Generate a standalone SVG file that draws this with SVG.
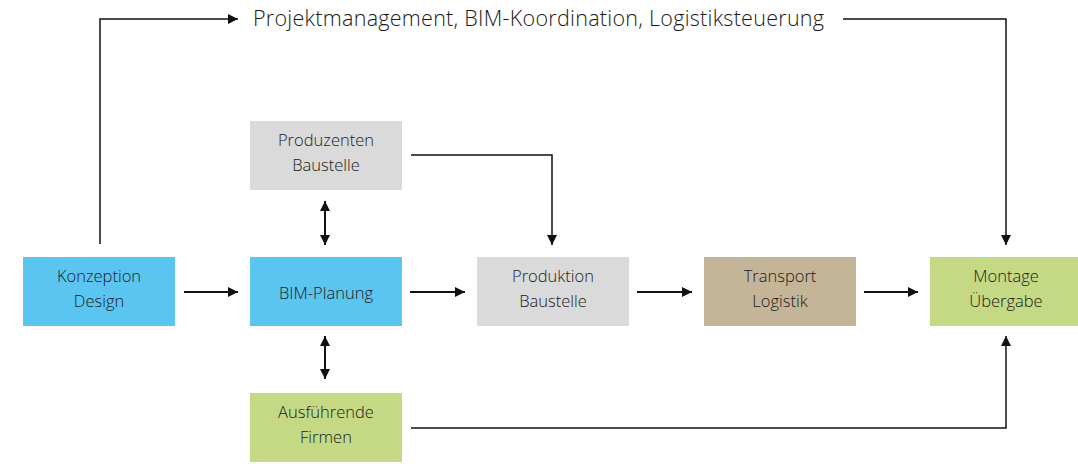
<svg xmlns="http://www.w3.org/2000/svg" width="1078" height="464" viewBox="0 0 1078 464">
<style>
.t{font-family:"Open Sans","Noto Sans",sans-serif;font-size:16.5px;fill:#1a1a1a;text-anchor:middle;font-weight:300}
.h{font-family:"Open Sans","Noto Sans",sans-serif;font-size:21.5px;fill:#1a1a1a;font-weight:300}
.c{fill:none;stroke:#111;stroke-width:1.5}
.a{fill:none;stroke:#111;stroke-width:2}
</style>
<defs>
<marker id="ah" viewBox="0 0 10 10" refX="10" refY="5" markerWidth="10" markerHeight="10" markerUnits="userSpaceOnUse" orient="auto-start-reverse"><path d="M0,0 L10,5 L0,10 z" fill="#111"/></marker>
</defs>
<rect width="1078" height="464" fill="#fff"/>
<g id="konzeption"><rect x="23" y="257" width="152" height="69" fill="#5bc5f2"/><text class="t" x="99" y="282">Konzeption</text><text class="t" x="99" y="307">Design</text></g>
<g id="bim"><rect x="250" y="257" width="152" height="69" fill="#5bc5f2"/><text class="t" x="326" y="299">BIM-Planung</text></g>
<g id="produktion"><rect x="477" y="257" width="152" height="69" fill="#dadada"/><text class="t" x="553" y="282">Produktion</text><text class="t" x="553" y="307">Baustelle</text></g>
<g id="transport"><rect x="704" y="257" width="152" height="69" fill="#c5b598"/><text class="t" x="780" y="282">Transport</text><text class="t" x="780" y="307">Logistik</text></g>
<g id="montage"><rect x="930" y="257" width="148" height="69" fill="#c5d985"/><text class="t" x="1006" y="282">Montage</text><text class="t" x="1006" y="307">Übergabe</text></g>
<g id="produzenten"><rect x="250" y="121" width="152" height="69" fill="#dadada"/><text class="t" x="326" y="146">Produzenten</text><text class="t" x="326" y="171">Baustelle</text></g>
<g id="ausfuehrende"><rect x="250" y="393" width="152" height="69" fill="#c5d985"/><text class="t" x="326" y="418">Ausführende</text><text class="t" x="326" y="443">Firmen</text></g>
<g id="title"><text class="h" x="253" y="26" textLength="571" lengthAdjust="spacing">Projektmanagement, BIM-Koordination, Logistiksteuerung</text></g>
<g id="connectors">
<path class="a" d="M184,292 H238" marker-end="url(#ah)"/>
<path class="a" d="M410,292 H465" marker-end="url(#ah)"/>
<path class="a" d="M637,292 H692" marker-end="url(#ah)"/>
<path class="a" d="M864,292 H918" marker-end="url(#ah)"/>
<path class="c" d="M100,244 V19 H238" marker-end="url(#ah)"/>
<path class="c" d="M843,19 H1006 V245" marker-end="url(#ah)"/>
<path class="c" d="M411,155 H552 V245" marker-end="url(#ah)"/>
<path class="a" d="M325,201 V245" marker-start="url(#ah)" marker-end="url(#ah)"/>
<path class="a" d="M325,336 V379" marker-start="url(#ah)" marker-end="url(#ah)"/>
<path class="c" d="M411,428 H1006 V336" marker-end="url(#ah)"/>
</g>
</svg>
